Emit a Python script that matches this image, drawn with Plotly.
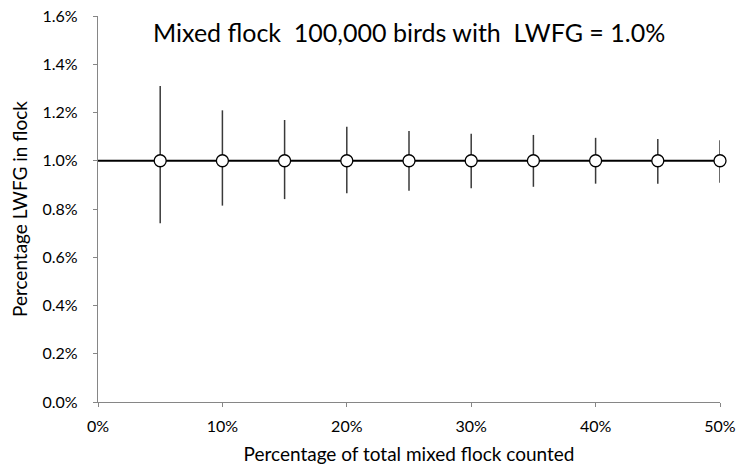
import plotly.graph_objects as go

# Data
pct_counted = [0.05, 0.10, 0.15, 0.20, 0.25, 0.30, 0.35, 0.40, 0.45, 0.50]
pct_lwfg = [0.010] * 10
upper = [0.01310, 0.01209, 0.01169, 0.01141, 0.01123, 0.01112, 0.01107, 0.01095, 0.01090, 0.01085]
lower = [0.00741, 0.00814, 0.00841, 0.00865, 0.00876, 0.00886, 0.00892, 0.00905, 0.00905, 0.00909]
true_x = [0.0, 0.5]
true_y = [0.010, 0.010]
y_ticks = [0.0, 0.002, 0.004, 0.006, 0.008, 0.010, 0.012, 0.014, 0.016]
x_ticks = [0.0, 0.1, 0.2, 0.3, 0.4, 0.5]

err_plus = [u - v for u, v in zip(upper, pct_lwfg)]
err_minus = [v - l for l, v in zip(lower, pct_lwfg)]

FONT = "Lato, 'Open Sans', sans-serif"

fig = go.Figure()
fig.add_trace(go.Scatter(
    x=true_x, y=true_y, mode="lines",
    line=dict(color="black", width=2), showlegend=False, hoverinfo="skip", cliponaxis=False))
fig.add_trace(go.Scatter(
    x=pct_counted, y=pct_lwfg, mode="markers",
    marker=dict(size=12, color="white", line=dict(color="black", width=1.3)),
    error_y=dict(type="data", symmetric=False, array=err_plus, arrayminus=err_minus,
                 color="#3a3a3a", thickness=1.5, width=0),
    showlegend=False, cliponaxis=False))

fig.update_layout(
    width=739, height=468,
    margin=dict(l=98, r=19, t=16, b=66),
    paper_bgcolor="white", plot_bgcolor="white",
    font=dict(family=FONT, color="black", size=16),
    annotations=[dict(
        text="Mixed flock  100,000 birds with  LWFG = 1.0%",
        x=0.5, y=1.0, xref="paper", yref="paper", xanchor="center", yanchor="top",
        yshift=1, showarrow=False, font=dict(family=FONT, size=25, color="black"))],
)
fig.update_xaxes(
    range=[0, 0.5], tickvals=x_ticks, tickformat=".0%", automargin=False,
    showgrid=False, zeroline=False, showline=True, linecolor="#868686", linewidth=1.3,
    ticks="outside", ticklen=4, tickcolor="#868686", ticklabelstandoff=6,
    title=dict(text="Percentage of total mixed flock counted", font=dict(size=19), standoff=13),
    tickfont=dict(size=16))
fig.update_yaxes(
    range=[0, 0.016], tickvals=y_ticks, tickformat=".1%", automargin=False,
    showgrid=False, zeroline=False, showline=True, linecolor="#868686", linewidth=1.3,
    ticks="outside", ticklen=4, tickcolor="#868686", ticklabelstandoff=12,
    title=dict(text="Percentage LWFG in flock", font=dict(size=19), standoff=9),
    tickfont=dict(size=16))

fig.write_html("out.html")
